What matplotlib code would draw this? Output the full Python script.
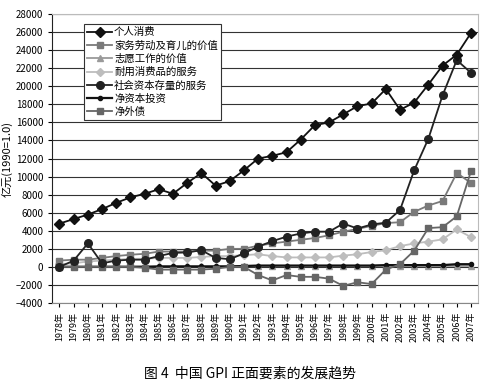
import matplotlib
matplotlib.use("Agg")
import matplotlib.pyplot as plt

plt.rcParams['font.family'] = ['Noto Sans CJK SC', 'DejaVu Sans']

years = [f"{y}年" for y in range(1978, 2008)]

personal = [4800, 5300, 5800, 6400, 7100, 7700, 8100, 8600, 8100, 9300,
            10400, 9000, 9500, 10700, 12000, 12300, 12700, 14100, 15700, 16000,
            16900, 17800, 18100, 19700, 17400, 18200, 20200, 22300, 23500, 25900]
household = [700, 800, 800, 1000, 1200, 1350, 1450, 1700, 1700, 1700,
             1800, 1800, 2000, 2000, 2350, 2600, 2800, 3000, 3200, 3500,
             3900, 4200, 4550, 4850, 4950, 6100, 6800, 7300, 10400, 9300]
volunteer = [50, 50, 50, 60, 60, 60, 70, 70, 70, 80,
             80, 80, 90, 90, 100, 100, 100, 100, 100, 100,
             100, 100, 100, 100, 100, 100, 100, 100, 100, 100]
durable = [300, 400, 600, 700, 800, 900, 900, 1000, 1000, 1000,
           1100, 1200, 1200, 1300, 1400, 1200, 1050, 1050, 1050, 1050,
           1250, 1400, 1650, 1850, 2300, 2600, 2800, 3050, 4150, 3300]
social = [0, 700, 2600, 400, 700, 800, 800, 1200, 1550, 1600,
          1850, 1000, 850, 1500, 2250, 2850, 3350, 3700, 3900, 3900,
          4800, 4250, 4700, 4900, 6300, 10700, 14200, 19000, 22900, 21500]
net_invest = [0, 0, 0, 0, 0, 0, 0, 50, 50, 50,
              50, 50, 50, 100, 150, 150, 150, 150, 150, 150,
              150, 150, 150, 200, 200, 200, 200, 200, 300, 300]
net_debt = [0, 0, 0, 0, 0, 0, -100, -300, -300, -300,
            -300, -200, 0, 0, -900, -1500, -900, -1100, -1100, -1300,
            -2100, -1700, -1900, -300, 300, 1800, 4300, 4400, 5600, 10600]

x = list(range(len(years)))

fig = plt.figure(figsize=(4.99, 3.91), dpi=100)
ax = fig.add_axes([0.105, 0.225, 0.853, 0.739])

ax.plot(x, personal, color='#111111', marker='D', ms=5, lw=1.3, label='个人消费', zorder=6)
ax.plot(x, household, color='#7a7a7a', marker='s', ms=5, lw=1.3, label='家务劳动及育儿的价值', zorder=4)
ax.plot(x, volunteer, color='#9a9a9a', marker='^', ms=5, lw=1.3, label='志愿工作的价值', zorder=3)
ax.plot(x, durable, color='#bdbdbd', marker='D', ms=4, lw=1.3, label='耐用消费品的服务', zorder=3)
ax.plot(x, social, color='#222222', marker='o', ms=5.5, lw=1.3, label='社会资本存量的服务', zorder=5)
ax.plot(x, net_invest, color='#111111', marker='o', ms=3, lw=1.6, label='净资本投资', zorder=4)
ax.plot(x, net_debt, color='#666666', marker='s', ms=5, lw=1.3, label='净外债', zorder=4)

ax.set_xlim(-0.5, len(years) - 0.5)
ax.set_ylim(-4000, 28000)
ax.set_yticks(range(-4000, 28001, 2000))
ax.yaxis.grid(True, color='#333333', lw=0.8)
ax.set_axisbelow(True)
ax.set_xticks(x)
ax.set_xticklabels(years, rotation=90, fontsize=6.5)
ax.tick_params(axis='y', labelsize=7, length=3)
ax.tick_params(axis='x', length=3)

for s in ['top', 'right']:
    ax.spines[s].set_color('#bbbbbb')
ax.spines['left'].set_color('#222222')
ax.spines['bottom'].set_color('#888888')

ax.set_ylabel('亿元(1990=1.0)', fontsize=8, labelpad=2)

leg = ax.legend(loc='upper left', bbox_to_anchor=(0.074, 0.965), fontsize=7.5,
                frameon=True, fancybox=False, edgecolor='#333333', framealpha=1,
                borderpad=0.3, labelspacing=0.3, handlelength=2.4,
                handletextpad=0.2, borderaxespad=0)
leg.get_frame().set_linewidth(0.8)

fig.text(0.5, 0.035, '图 4  中国 GPI 正面要素的发展趋势', ha='center', fontsize=10)

fig.savefig('out.png', dpi=100)
